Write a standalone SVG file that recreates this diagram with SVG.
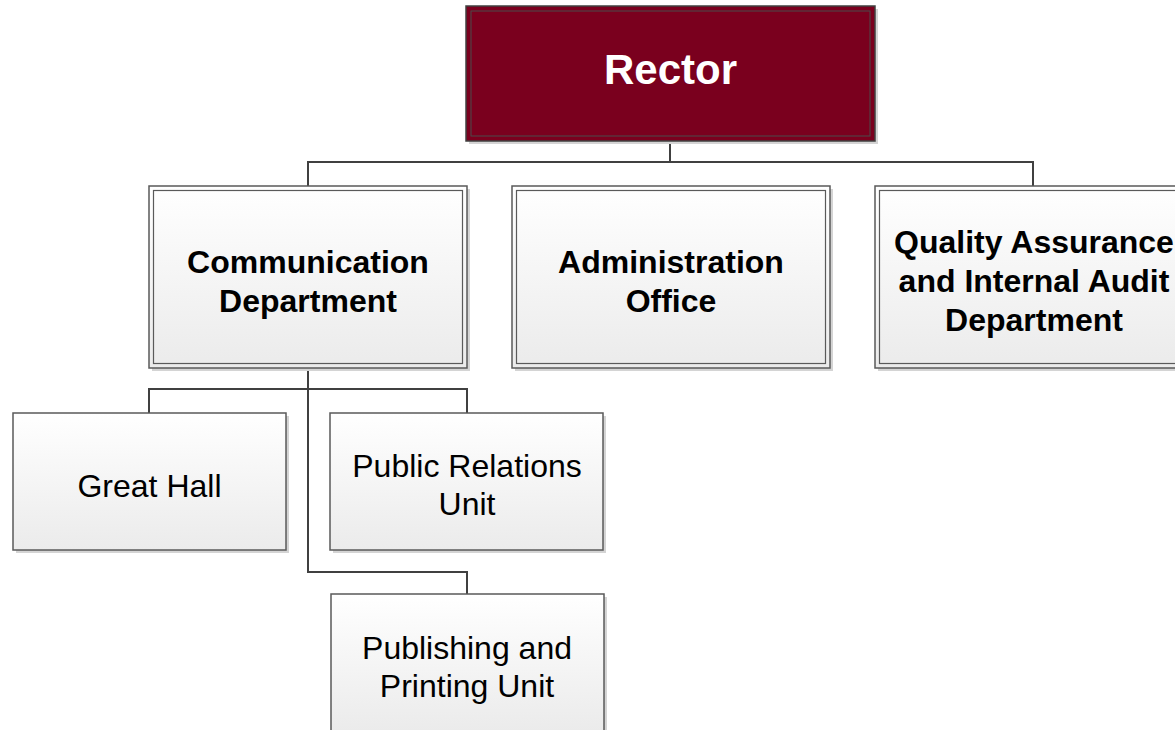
<svg xmlns="http://www.w3.org/2000/svg" width="1175" height="730" viewBox="0 0 1175 730">
<style>
.box{fill:url(#g);stroke:#5a5a5a;stroke-width:1.5}
.inner{fill:none;stroke:#5a5a5a;stroke-width:1.2}
.sh{fill:#d4d4d4}
.t{font-family:"Liberation Sans",Arial,sans-serif;font-size:32px;fill:#000;text-anchor:middle}
.b{font-weight:bold}
.c{fill:none;stroke:#404040;stroke-width:2}
</style>
<defs>
<linearGradient id="g" x1="0" y1="0" x2="0" y2="1">
<stop offset="0" stop-color="#ffffff"/>
<stop offset="1" stop-color="#ebebeb"/>
</linearGradient>
</defs>
<rect width="1175" height="730" fill="#fff"/>
<g id="connectors">
<path class="c" d="M670 141V162M308 186V162H1033V186M308 368V572H467V594M149 413V389H467V413"/>
</g>
<g id="rector">
<rect class="sh" x="469" y="9" width="409" height="135"/>
<rect x="466" y="6" width="409" height="135" fill="#7a001e" stroke="#404040" stroke-width="1.5"/>
<rect x="471" y="11" width="399" height="125" fill="none" stroke="#4a4a4a" stroke-width="1"/>
<text class="t b" x="670.5" y="84" style="font-size:42px;fill:#fff">Rector</text>
</g>
<g id="comm">
<rect class="sh" x="152" y="189" width="318" height="182"/>
<rect class="box" x="149" y="186" width="318" height="182"/>
<rect class="inner" x="153.5" y="190.5" width="309" height="173"/>
<text class="t b" x="308" y="273">Communication</text>
<text class="t b" x="308" y="312">Department</text>
</g>
<g id="admin">
<rect class="sh" x="515" y="189" width="318" height="182"/>
<rect class="box" x="512" y="186" width="318" height="182"/>
<rect class="inner" x="516.5" y="190.5" width="309" height="173"/>
<text class="t b" x="671" y="273">Administration</text>
<text class="t b" x="671" y="312">Office</text>
</g>
<g id="qa">
<rect class="sh" x="878" y="189" width="318" height="182"/>
<rect class="box" x="875" y="186" width="318" height="182"/>
<rect class="inner" x="879.5" y="190.5" width="309" height="173"/>
<text class="t b" x="1034" y="253">Quality Assurance</text>
<text class="t b" x="1034" y="292">and Internal Audit</text>
<text class="t b" x="1034" y="331">Department</text>
</g>
<g id="greathall">
<rect class="sh" x="16" y="416" width="273" height="137"/>
<rect class="box" x="13" y="413" width="273" height="137"/>
<text class="t" x="149.5" y="497">Great Hall</text>
</g>
<g id="pr">
<rect class="sh" x="333" y="416" width="273" height="137"/>
<rect class="box" x="330" y="413" width="273" height="137"/>
<text class="t" x="467" y="477">Public Relations</text>
<text class="t" x="467" y="515">Unit</text>
</g>
<g id="pub">
<rect class="sh" x="334" y="597" width="273" height="137"/>
<rect class="box" x="331" y="594" width="273" height="137"/>
<text class="t" x="467" y="659">Publishing and</text>
<text class="t" x="467" y="697">Printing Unit</text>
</g>
</svg>
